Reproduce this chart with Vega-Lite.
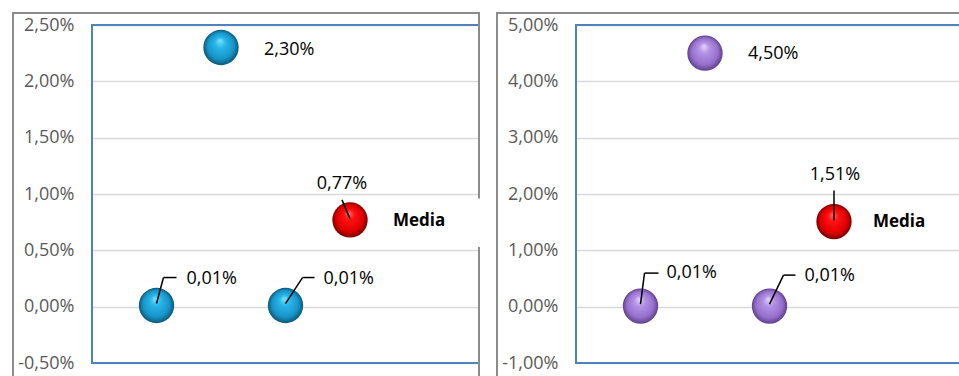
{
  "$schema": "https://vega.github.io/schema/vega-lite/v6.json",
  "autosize": {"type": "pad"},
  "padding": {"left": 11, "top": 11, "right": 0, "bottom": 0},
  "background": "white",
  "spacing": 97,
  "bounds": "flush",
  "datasets": {
    "d": [
      {"panel": "A", "x": 1, "valor": 0.0001, "tipo": "dato"},
      {"panel": "A", "x": 2, "valor": 0.023, "tipo": "dato"},
      {"panel": "A", "x": 3, "valor": 0.0001, "tipo": "dato"},
      {"panel": "A", "x": 4, "valor": 0.0077, "tipo": "Media"},
      {"panel": "B", "x": 1, "valor": 0.0001, "tipo": "dato"},
      {"panel": "B", "x": 2, "valor": 0.045, "tipo": "dato"},
      {"panel": "B", "x": 3, "valor": 0.0001, "tipo": "dato"},
      {"panel": "B", "x": 4, "valor": 0.0151, "tipo": "Media"}
    ]
  },
  "hconcat": [
    {
      "width": 387,
      "height": 338,
      "data": {"name": "d"},
      "encoding": {
        "x": {"field": "x", "type": "quantitative", "scale": {"domain": [0, 6], "nice": false, "zero": false}, "axis": null},
        "y": {"field": "valor", "type": "quantitative", "scale": {"domain": [-0.005, 0.025], "nice": false, "zero": false},
              "axis": {"values": [-0.005, 0, 0.005, 0.01, 0.015, 0.02, 0.025], "format": ".2%", "title": null}}
      },
      "layer": [
        {"transform": [{"filter": "datum.panel === 'A' && datum.x === 4"}],
         "mark": {"type": "rect", "fillOpacity": 0, "stroke": "#4f81bd", "strokeWidth": 2, "clip": false},
         "encoding": {"x": {"datum": 0}, "x2": {"datum": 6}, "y": {"datum": 0.025}, "y2": {"datum": -0.005}}},
        {"transform": [{"filter": "datum.panel === 'A' && datum.x === 4"}],
         "mark": {"type": "rule", "stroke": "#8c8c8c", "strokeWidth": 2, "strokeCap": "square", "clip": false},
         "encoding": {"x": {"datum": -1.2248}, "x2": {"datum": 6}, "y": {"datum": 0.026065}}},
        {"transform": [{"filter": "datum.panel === 'A' && datum.x === 4"}],
         "mark": {"type": "rule", "stroke": "#8c8c8c", "strokeWidth": 2, "clip": false},
         "encoding": {"x": {"datum": -1.2248}, "y": {"datum": 0.026065}, "y2": {"datum": -0.006154}}},
        {"transform": [{"filter": "datum.panel === 'A' && datum.x === 4"}],
         "mark": {"type": "rule", "stroke": "#8c8c8c", "strokeWidth": 2, "clip": false},
         "encoding": {"x": {"datum": 6}, "y": {"datum": 0.026065}, "y2": {"datum": -0.006154}}},
        {"transform": [{"filter": "datum.panel === 'A' && datum.x === 4"}],
         "mark": {"type": "rect", "fill": "white", "strokeWidth": 0, "clip": false},
         "encoding": {"x": {"datum": 5.7}, "x2": {"datum": 6.15}, "y": {"datum": 0.0096}, "y2": {"datum": 0.0053}}},
        {"transform": [{"filter": "datum.panel === 'A' && datum.tipo === 'dato'"}],
         "mark": {"type": "circle", "size": 1250, "opacity": 1,
                  "fill": {"gradient": "radial", "x1": 0.47, "y1": 0.3, "r1": 0, "x2": 0.5, "y2": 0.5, "r2": 0.5,
                           "stops": [{"offset": 0, "color": "#7ae6ff"}, {"offset": 0.3, "color": "#28b6e8"}, {"offset": 0.75, "color": "#1794c8"}, {"offset": 1, "color": "#0b5676"}]}}},
        {"transform": [{"filter": "datum.panel === 'A' && datum.tipo === 'Media'"}],
         "mark": {"type": "circle", "size": 1250, "opacity": 1,
                  "fill": {"gradient": "radial", "x1": 0.47, "y1": 0.3, "r1": 0, "x2": 0.5, "y2": 0.5, "r2": 0.5,
                           "stops": [{"offset": 0, "color": "#ff6a6a"}, {"offset": 0.3, "color": "#ff1010"}, {"offset": 0.75, "color": "#e00000"}, {"offset": 1, "color": "#7a0000"}]}}},
        {"transform": [{"filter": "datum.panel === 'A' && datum.x === 1"}],
         "mark": {"type": "rule", "color": "black", "strokeWidth": 1.5, "yOffset": -2, "x2Offset": 7, "y2Offset": -28},
         "encoding": {"x2": {"field": "x"}, "y2": {"field": "valor"}}},
        {"transform": [{"filter": "datum.panel === 'A' && datum.x === 1"}],
         "mark": {"type": "rule", "color": "black", "strokeWidth": 1.5, "xOffset": 7, "yOffset": -28, "x2Offset": 20, "y2Offset": -28},
         "encoding": {"x2": {"field": "x"}, "y2": {"field": "valor"}}},
        {"transform": [{"filter": "datum.panel === 'A' && datum.x === 3"}],
         "mark": {"type": "rule", "color": "black", "strokeWidth": 1.5, "yOffset": -2, "x2Offset": 17, "y2Offset": -28},
         "encoding": {"x2": {"field": "x"}, "y2": {"field": "valor"}}},
        {"transform": [{"filter": "datum.panel === 'A' && datum.x === 3"}],
         "mark": {"type": "rule", "color": "black", "strokeWidth": 1.5, "xOffset": 17, "yOffset": -28, "x2Offset": 29, "y2Offset": -28},
         "encoding": {"x2": {"field": "x"}, "y2": {"field": "valor"}}},
        {"transform": [{"filter": "datum.panel === 'A' && datum.tipo === 'Media'"}],
         "mark": {"type": "rule", "color": "black", "strokeWidth": 1.5, "yOffset": -1, "x2Offset": -8, "y2Offset": -20},
         "encoding": {"x2": {"field": "x"}, "y2": {"field": "valor"}}},
        {"transform": [{"filter": "datum.panel === 'A' && datum.x === 1"}],
         "mark": {"type": "text", "align": "left", "baseline": "middle", "dx": 30, "dy": -27},
         "encoding": {"text": {"field": "valor", "type": "quantitative", "format": ".2%"}}},
        {"transform": [{"filter": "datum.panel === 'A' && datum.x === 3"}],
         "mark": {"type": "text", "align": "left", "baseline": "middle", "dx": 38, "dy": -27},
         "encoding": {"text": {"field": "valor", "type": "quantitative", "format": ".2%"}}},
        {"transform": [{"filter": "datum.panel === 'A' && datum.x === 2"}],
         "mark": {"type": "text", "align": "left", "baseline": "middle", "dx": 43, "dy": 2},
         "encoding": {"text": {"field": "valor", "type": "quantitative", "format": ".2%"}}},
        {"transform": [{"filter": "datum.panel === 'A' && datum.tipo === 'Media'"}],
         "mark": {"type": "text", "align": "center", "baseline": "middle", "dx": -8, "dy": -36},
         "encoding": {"text": {"field": "valor", "type": "quantitative", "format": ".2%"}}},
        {"transform": [{"filter": "datum.panel === 'A' && datum.tipo === 'Media'"}],
         "mark": {"type": "text", "align": "left", "baseline": "middle", "dx": 43, "dy": 1, "fontWeight": "bold", "fontSize": 17},
         "encoding": {"text": {"field": "tipo"}}}
      ]
    },
    {
      "width": 383,
      "height": 338,
      "data": {"name": "d"},
      "encoding": {
        "x": {"field": "x", "type": "quantitative", "scale": {"domain": [0, 5.938], "nice": false, "zero": false}, "axis": null},
        "y": {"field": "valor", "type": "quantitative", "scale": {"domain": [-0.01, 0.05], "nice": false, "zero": false},
              "axis": {"values": [-0.01, 0, 0.01, 0.02, 0.03, 0.04, 0.05], "format": ".2%", "title": null}}
      },
      "layer": [
        {"transform": [{"filter": "datum.panel === 'B' && datum.x === 4"}],
         "mark": {"type": "rule", "stroke": "#4f81bd", "strokeWidth": 2, "clip": false},
         "encoding": {"x": {"datum": 0}, "x2": {"datum": 5.938}, "y": {"datum": 0.05}}},
        {"transform": [{"filter": "datum.panel === 'B' && datum.x === 4"}],
         "mark": {"type": "rule", "stroke": "#4f81bd", "strokeWidth": 2, "clip": false},
         "encoding": {"x": {"datum": 0}, "x2": {"datum": 5.938}, "y": {"datum": -0.01}}},
        {"transform": [{"filter": "datum.panel === 'B' && datum.x === 4"}],
         "mark": {"type": "rule", "stroke": "#4f81bd", "strokeWidth": 2, "strokeCap": "square", "clip": false},
         "encoding": {"x": {"datum": 0}, "y": {"datum": 0.05}, "y2": {"datum": -0.01}}},
        {"transform": [{"filter": "datum.panel === 'B' && datum.x === 4"}],
         "mark": {"type": "rule", "stroke": "#8c8c8c", "strokeWidth": 2, "clip": false},
         "encoding": {"x": {"datum": -1.2248}, "x2": {"datum": 5.938}, "y": {"datum": 0.05213}}},
        {"transform": [{"filter": "datum.panel === 'B' && datum.x === 4"}],
         "mark": {"type": "rule", "stroke": "#8c8c8c", "strokeWidth": 2, "strokeCap": "square", "clip": false},
         "encoding": {"x": {"datum": -1.2248}, "y": {"datum": 0.05213}, "y2": {"datum": -0.012308}}},
        {"transform": [{"filter": "datum.panel === 'B' && datum.tipo === 'dato'"}],
         "mark": {"type": "circle", "size": 1250, "opacity": 1,
                  "fill": {"gradient": "radial", "x1": 0.47, "y1": 0.3, "r1": 0, "x2": 0.5, "y2": 0.5, "r2": 0.5,
                           "stops": [{"offset": 0, "color": "#e6d6fa"}, {"offset": 0.3, "color": "#b493e5"}, {"offset": 0.75, "color": "#9670cc"}, {"offset": 1, "color": "#5e3f8c"}]}}},
        {"transform": [{"filter": "datum.panel === 'B' && datum.tipo === 'Media'"}],
         "mark": {"type": "circle", "size": 1250, "opacity": 1,
                  "fill": {"gradient": "radial", "x1": 0.47, "y1": 0.3, "r1": 0, "x2": 0.5, "y2": 0.5, "r2": 0.5,
                           "stops": [{"offset": 0, "color": "#ff6a6a"}, {"offset": 0.3, "color": "#ff1010"}, {"offset": 0.75, "color": "#e00000"}, {"offset": 1, "color": "#7a0000"}]}}},
        {"transform": [{"filter": "datum.panel === 'B' && datum.x === 1"}],
         "mark": {"type": "rule", "color": "black", "strokeWidth": 1.5, "yOffset": -2, "x2Offset": 4, "y2Offset": -33},
         "encoding": {"x2": {"field": "x"}, "y2": {"field": "valor"}}},
        {"transform": [{"filter": "datum.panel === 'B' && datum.x === 1"}],
         "mark": {"type": "rule", "color": "black", "strokeWidth": 1.5, "xOffset": 4, "yOffset": -33, "x2Offset": 18, "y2Offset": -33},
         "encoding": {"x2": {"field": "x"}, "y2": {"field": "valor"}}},
        {"transform": [{"filter": "datum.panel === 'B' && datum.x === 3"}],
         "mark": {"type": "rule", "color": "black", "strokeWidth": 1.5, "yOffset": -2, "x2Offset": 14, "y2Offset": -31},
         "encoding": {"x2": {"field": "x"}, "y2": {"field": "valor"}}},
        {"transform": [{"filter": "datum.panel === 'B' && datum.x === 3"}],
         "mark": {"type": "rule", "color": "black", "strokeWidth": 1.5, "xOffset": 14, "yOffset": -31, "x2Offset": 26, "y2Offset": -31},
         "encoding": {"x2": {"field": "x"}, "y2": {"field": "valor"}}},
        {"transform": [{"filter": "datum.panel === 'B' && datum.tipo === 'Media'"}],
         "mark": {"type": "rule", "color": "black", "strokeWidth": 1.5, "yOffset": -1, "x2Offset": 0, "y2Offset": -31},
         "encoding": {"x2": {"field": "x"}, "y2": {"field": "valor"}}},
        {"transform": [{"filter": "datum.panel === 'B' && datum.x === 1"}],
         "mark": {"type": "text", "align": "left", "baseline": "middle", "dx": 26, "dy": -33},
         "encoding": {"text": {"field": "valor", "type": "quantitative", "format": ".2%"}}},
        {"transform": [{"filter": "datum.panel === 'B' && datum.x === 3"}],
         "mark": {"type": "text", "align": "left", "baseline": "middle", "dx": 35, "dy": -30},
         "encoding": {"text": {"field": "valor", "type": "quantitative", "format": ".2%"}}},
        {"transform": [{"filter": "datum.panel === 'B' && datum.x === 2"}],
         "mark": {"type": "text", "align": "left", "baseline": "middle", "dx": 43, "dy": 1},
         "encoding": {"text": {"field": "valor", "type": "quantitative", "format": ".2%"}}},
        {"transform": [{"filter": "datum.panel === 'B' && datum.tipo === 'Media'"}],
         "mark": {"type": "text", "align": "center", "baseline": "middle", "dx": 1, "dy": -47},
         "encoding": {"text": {"field": "valor", "type": "quantitative", "format": ".2%"}}},
        {"transform": [{"filter": "datum.panel === 'B' && datum.tipo === 'Media'"}],
         "mark": {"type": "text", "align": "left", "baseline": "middle", "dx": 39, "dy": 0, "fontWeight": "bold", "fontSize": 17},
         "encoding": {"text": {"field": "tipo"}}}
      ]
    }
  ],
  "config": {
    "view": {"stroke": null},
    "locale": {"number": {"decimal": ",", "thousands": ".", "grouping": [3], "currency": ["", " €"], "minus": "-"}},
    "axis": {"labelFont": "Open Sans", "labelFontSize": 18, "labelColor": "#595959", "labelPadding": 18, "domain": false, "ticks": false, "gridColor": "#d9d9d9", "gridWidth": 1.5},
    "text": {"font": "Open Sans", "fontSize": 18, "color": "black"}
  }
}
